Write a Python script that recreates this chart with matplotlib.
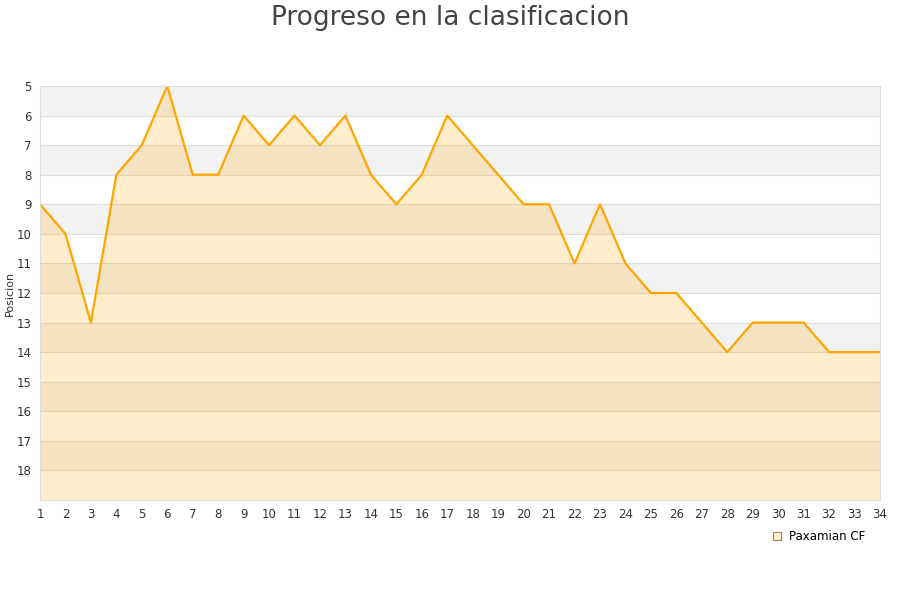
import matplotlib

matplotlib.use("Agg")
import matplotlib.pyplot as plt  # noqa: E402
from matplotlib.lines import Line2D  # noqa: E402

# jornada -> posicion en la tabla
jornadas = list(range(1, 35))
posicion = [9, 10, 13, 8, 7, 5, 8, 8, 6, 7, 6, 7, 6, 8, 9, 8, 6, 7, 8, 9,
            9, 11, 9, 11, 12, 12, 13, 14, 13, 13, 13, 14, 14, 14]
y_ticks = list(range(5, 19))
equipo = "Paxamian CF"

LINE = "#ffa500"

fig = plt.figure(figsize=(9, 6), dpi=100)
ax = fig.add_axes([40 / 900, 1 - 500 / 600, 840 / 900, 414 / 600])

# alternating row bands
for y0 in range(5, 19):
    if (y0 - 5) % 2 == 0:
        ax.axhspan(y0, y0 + 1, color="#f2f2f2", lw=0, zorder=0)
    ax.axhline(y0, color="#dddddd", lw=0.8, zorder=0.5)

ax.fill_between(jornadas, posicion, 19, color=LINE, alpha=0.2, lw=0, zorder=1)
ax.plot(jornadas, posicion, color=LINE, lw=1.6, zorder=2)

ax.set_xlim(1, 34)
ax.set_ylim(19, 5)
ax.set_xticks(jornadas)
ax.set_yticks(y_ticks)
ax.tick_params(length=0, labelsize=8.5, colors="#333333", pad=6)
for s in ax.spines.values():
    s.set_color("#dddddd")
    s.set_linewidth(0.8)
ax.set_ylabel("Posicion", fontsize=8, color="#333333", labelpad=1)

fig.suptitle("Progreso en la clasificacion", fontsize=19, color="#444444", y=0.992)

handle = Line2D([], [], ls="none", marker="s", ms=6, mfc="#ffedcc", mec="#a0805a", mew=0.8)
fig.legend([handle], [equipo], loc="center", bbox_to_anchor=(818 / 900, 1 - 537 / 600),
           frameon=False, fontsize=8.5, handletextpad=0.5, handlelength=1)

fig.savefig("out.png")
